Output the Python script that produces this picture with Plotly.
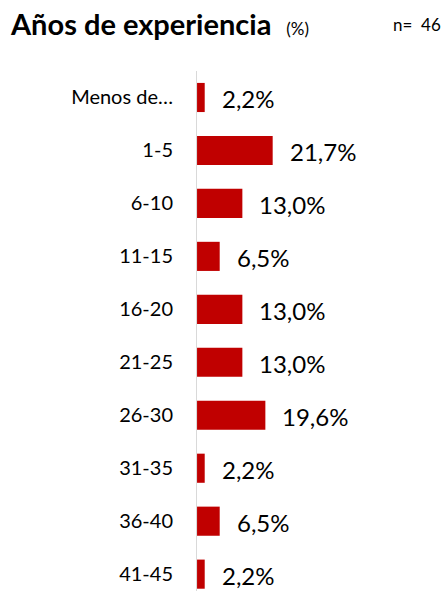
import plotly.graph_objects as go

categories = ["Menos de…", "1-5", "6-10", "11-15", "16-20", "21-25", "26-30", "31-35", "36-40", "41-45"]
values = [2.2, 21.7, 13.0, 6.5, 13.0, 13.0, 19.6, 2.2, 6.5, 2.2]
value_labels = [f"{v:.1f}%".replace(".", ",") for v in values]

FONT = "Lato"
fig = go.Figure()
fig.add_trace(go.Bar(
    x=values, y=categories, orientation="h",
    marker=dict(color="#C00000", line=dict(width=0)),
    hoverinfo="skip",
))
for c, v, t in zip(categories, values, value_labels):
    fig.add_annotation(x=v, y=c, text=t, showarrow=False, xanchor="left", yanchor="middle",
                       xshift=15, yshift=-1, font=dict(family=FONT, size=24, color="#000000"))

fig.update_layout(
    width=448, height=591,
    margin=dict(l=196, r=0, t=71, b=0),
    paper_bgcolor="white", plot_bgcolor="white",
    bargap=0.45, showlegend=False,
    xaxis=dict(range=[-0.3, 72], visible=False, fixedrange=True),
    yaxis=dict(
        categoryorder="array", categoryarray=categories,
        range=[9.318, -0.5], showgrid=False, zeroline=False,
        showline=False, ticks="", ticklabelstandoff=22, fixedrange=True,
        tickfont=dict(family=FONT, size=20, color="#000000"),
    ),
    shapes=[dict(type="line", xref="x", yref="paper", x0=-0.3, x1=-0.3, y0=0, y1=1,
                 line=dict(color="#D9D9D9", width=2))],
    annotations=list(fig.layout.annotations) + [
        dict(text="<b>Años de experiencia</b>  <span style='font-size:17px'>(%)</span>",
             xref="paper", yref="paper", x=-188/252, y=1 + 47/519, xanchor="left", yanchor="middle",
             showarrow=False, font=dict(family=FONT, size=29, color="#000000")),
        dict(text="n=  46", xref="paper", yref="paper", x=1 - 5/252, y=1 + 46/519,
             xanchor="right", yanchor="middle", showarrow=False,
             font=dict(family=FONT, size=17, color="#000000")),
    ],
)
fig.write_html("out.html", config={"displayModeBar": False},
               post_script="document.body.style.margin='0';document.body.style.overflow='hidden';")
